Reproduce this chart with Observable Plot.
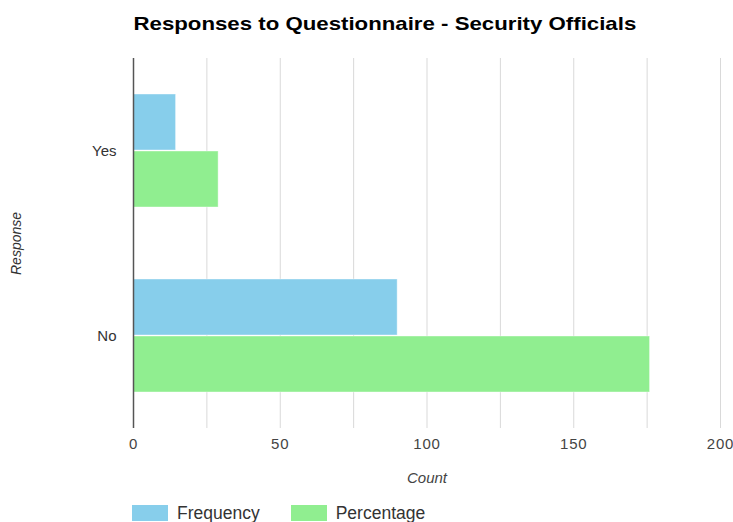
<!DOCTYPE html>
<html>
<head>
<meta charset="utf-8">
<script src="https://cdn.jsdelivr.net/npm/d3@7"></script>
<script src="https://cdn.jsdelivr.net/npm/@observablehq/plot@0.6"></script>
<style>
  body { margin: 0; background: #fff; font-family: "Liberation Sans", Arial, sans-serif; }
  #wrap { width: 733px; }
  #title { height: 45px; line-height: 47px; text-align: center; padding-left: 37px; box-sizing: border-box; }
  #title span { display: inline-block; font-weight: bold; font-size: 19px; color: #000; transform: scaleX(1.17); transform-origin: center; }
  #chart svg { display: block; }
  #legend { margin-top: 8px; padding-left: 132px; height: 20px; display: flex; align-items: center; font-size: 17.5px; color: #333; }
  .item { display: flex; align-items: center; margin-right: 31px; }
  .sw { width: 36px; height: 16px; margin-right: 9px; }
  g[aria-label="x-axis label"] text { font-style: italic; font-size: 15px; }
  g[aria-label="fy-axis label"] text { font-style: italic; font-size: 14px; }
  g[aria-label="x-axis tick label"] text { letter-spacing: 0.8px; }
</style>
</head>
<body>
<div id="wrap">
  <div id="title"><span>Responses to Questionnaire - Security Officials</span></div>
  <div id="chart"></div>
  <div id="legend"></div>
</div>
<script>
// Survey answers and the two measures reported for each
const responses = ["Yes", "No"];
const seriesNames = ["Frequency", "Percentage"];
const frequency = [14.5, 90];
const percentage = [29, 176];
const seriesColors = ["#87CEEB", "#90EE90"];
const xTicks = [0, 50, 100, 150, 200];
const gridTicks = [0, 25, 50, 75, 100, 125, 150, 175, 200];

const rows = [];
responses.forEach((r, i) => {
  rows.push({response: r, series: "Frequency", value: frequency[i]});
  rows.push({response: r, series: "Percentage", value: percentage[i]});
});

const chart = Plot.plot({
  width: 733,
  height: 450,
  marginTop: 12,
  marginBottom: 67,
  marginLeft: 133,
  marginRight: 13,
  style: {fontFamily: "Liberation Sans, Arial, sans-serif", color: "#333", background: "#fff"},
  x: {domain: [0, 200]},
  fy: {domain: responses, padding: 0},
  y: {domain: seriesNames, paddingInner: 0.02, paddingOuter: 0.62, axis: null},
  color: {domain: seriesNames, range: seriesColors},
  marks: [
    Plot.gridX(gridTicks, {stroke: "#d9d9d9", strokeOpacity: 1}),
    Plot.barX(rows, {x: "value", y: "series", fy: "response", fill: "series", stroke: "#ffffff", strokeOpacity: 0.4}),
    Plot.ruleX([0], {stroke: "#555", strokeWidth: 1.5}),
    Plot.axisX(xTicks, {tickSize: 0, tickPadding: 10, fontSize: 15, fill: "#444", label: "Count", labelAnchor: "center", labelArrow: "none", labelOffset: 54}),
    Plot.axisFy({anchor: "left", tickSize: 0, tickPadding: 17, fontSize: 15, label: "Response", labelAnchor: "center", labelArrow: "none", labelOffset: 122})
  ]
});
document.getElementById("chart").appendChild(chart);

// Legend below the chart
const legend = document.getElementById("legend");
seriesNames.forEach((name, i) => {
  const item = document.createElement("div");
  item.className = "item";
  const sw = document.createElement("div");
  sw.className = "sw";
  sw.style.background = seriesColors[i];
  const label = document.createElement("span");
  label.textContent = name;
  item.appendChild(sw);
  item.appendChild(label);
  legend.appendChild(item);
});
</script>
</body>
</html>
